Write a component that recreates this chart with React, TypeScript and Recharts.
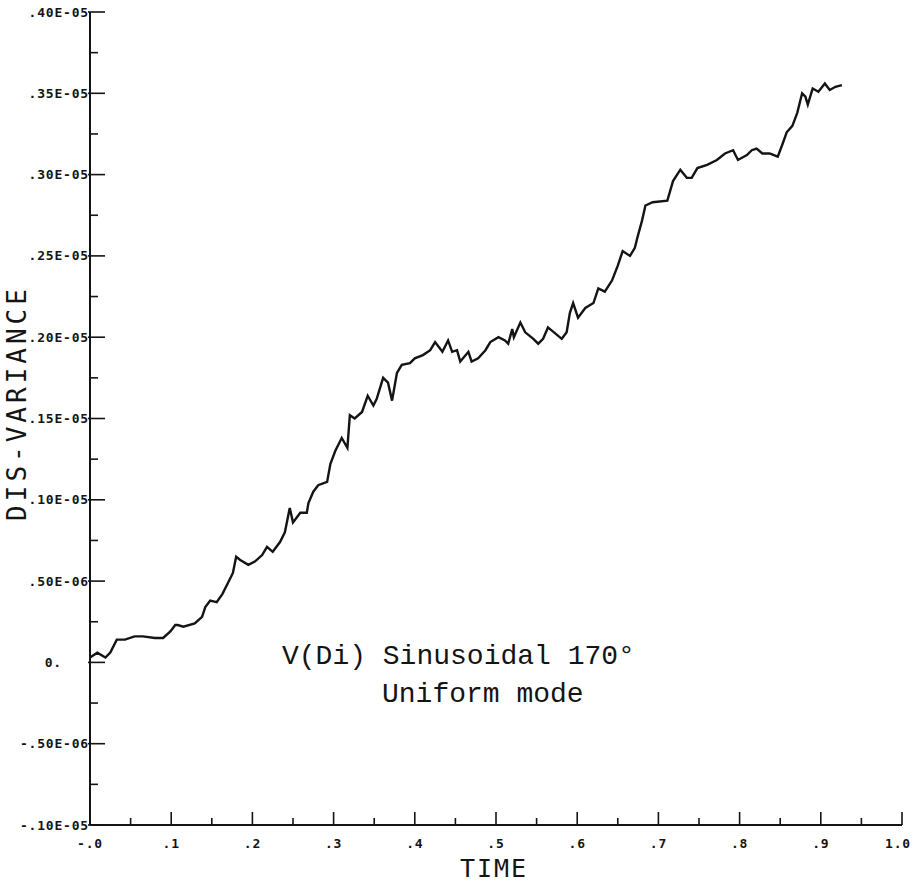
import { LineChart, Line, XAxis, YAxis, Customized } from "recharts";

const time = [
  0.0, 0.009, 0.019, 0.025, 0.033, 0.043, 0.055, 0.065, 0.08, 0.09,
  0.099, 0.105, 0.108, 0.115, 0.129, 0.138, 0.142, 0.148, 0.156, 0.163,
  0.17, 0.176, 0.18, 0.185, 0.195, 0.203, 0.212, 0.218, 0.225, 0.234,
  0.24, 0.246, 0.25, 0.259, 0.267, 0.269, 0.275, 0.281, 0.292, 0.296,
  0.302, 0.31, 0.317, 0.32, 0.326, 0.335, 0.342, 0.349, 0.353, 0.361,
  0.367, 0.372, 0.378, 0.384, 0.394, 0.4, 0.41, 0.419, 0.425, 0.434,
  0.441, 0.446, 0.452, 0.456, 0.466, 0.47, 0.478, 0.487, 0.493, 0.503,
  0.511, 0.515, 0.52, 0.522, 0.53, 0.536, 0.546, 0.552, 0.558, 0.564,
  0.581, 0.587, 0.591, 0.595, 0.601, 0.61, 0.62, 0.626, 0.634, 0.643,
  0.65, 0.656, 0.665, 0.671, 0.674, 0.68, 0.684, 0.693, 0.711, 0.718,
  0.727, 0.735, 0.741, 0.748, 0.76, 0.772, 0.782, 0.792, 0.798, 0.809,
  0.815, 0.821, 0.828, 0.837, 0.847, 0.853, 0.858, 0.865, 0.871, 0.877,
  0.881, 0.884, 0.89, 0.897, 0.905, 0.911, 0.918, 0.926,
];

const disVariance = [
  0.03, 0.06, 0.03, 0.06, 0.14, 0.14, 0.16, 0.16, 0.15, 0.15,
  0.19, 0.23, 0.23, 0.22, 0.24, 0.28, 0.34, 0.38, 0.37, 0.42,
  0.49, 0.55, 0.65, 0.63, 0.6, 0.62, 0.66, 0.71, 0.68, 0.74,
  0.8, 0.95, 0.86, 0.92, 0.92, 0.98, 1.05, 1.09, 1.11, 1.22,
  1.3, 1.38, 1.32, 1.52, 1.5, 1.54, 1.64, 1.58, 1.62, 1.75,
  1.72, 1.61, 1.78, 1.83, 1.84, 1.87, 1.89, 1.92, 1.97, 1.91,
  1.98, 1.91, 1.92, 1.85, 1.91, 1.85, 1.87, 1.92, 1.97, 2.0,
  1.98, 1.96, 2.05, 2.0, 2.09, 2.03, 1.99, 1.96, 1.99, 2.06,
  1.99, 2.03, 2.15, 2.21, 2.12, 2.18, 2.21, 2.3, 2.28, 2.35,
  2.44, 2.53, 2.5, 2.55, 2.61, 2.72, 2.81, 2.83, 2.84, 2.96,
  3.03, 2.98, 2.98, 3.04, 3.06, 3.09, 3.13, 3.15, 3.09, 3.12,
  3.15, 3.16, 3.13, 3.13, 3.11, 3.19, 3.26, 3.3, 3.38, 3.5,
  3.48, 3.43, 3.53, 3.51, 3.56, 3.52, 3.54, 3.55,
];

const yMajorTicks = [-1, -0.5, 0, 0.5, 1, 1.5, 2, 2.5, 3, 3.5, 4];
const yMajorLabels = [
  "-.10E-05", "-.50E-06", "0.", ".50E-06", ".10E-05", ".15E-05",
  ".20E-05", ".25E-05", ".30E-05", ".35E-05", ".40E-05",
];
const yMinorTicks = [-0.75, -0.25, 0.25, 0.75, 1.25, 1.75, 2.25, 2.75, 3.25, 3.75];

const xMajorTicks = [0, 0.1, 0.2, 0.3, 0.4, 0.5, 0.6, 0.7, 0.8, 0.9, 1.0];
const xMajorLabels = ["-.0", ".1", ".2", ".3", ".4", ".5", ".6", ".7", ".8", ".9", "1.0"];
const xMinorTicks = [0.05, 0.15, 0.25, 0.35, 0.45, 0.55, 0.65, 0.75, 0.85, 0.95];

const data = time.map((t, i) => ({ t, v: disVariance[i] }));

const INK = "#141414";
const tickFont = {
  fontFamily: "DejaVu Sans Mono",
  fontSize: 13,
  fontWeight: 700,
  letterSpacing: 0.8,
  fill: INK,
};

const YTick = (props: any) => {
  const { x, y, payload } = props;
  const i = yMajorTicks.indexOf(payload.value);
  if (i < 0) {
    return <line x1={x} x2={x + 8} y1={y} y2={y} stroke={INK} strokeWidth={1.6} />;
  }
  const label = yMajorLabels[i];
  return (
    <g>
      <line x1={x - 2} x2={x + 15} y1={y} y2={y} stroke={INK} strokeWidth={1.6} />
      <text
        x={label === "0." ? 62 : x - 1}
        y={y}
        textAnchor="end"
        dominantBaseline="central"
        {...tickFont}
      >
        {label}
      </text>
    </g>
  );
};

const XTick = (props: any) => {
  const { x, y, payload } = props;
  const i = xMajorTicks.indexOf(payload.value);
  if (i < 0) {
    return <line x1={x} x2={x} y1={y} y2={y - 7} stroke={INK} strokeWidth={1.6} />;
  }
  const last = i === xMajorTicks.length - 1;
  return (
    <g>
      <line x1={x} x2={x} y1={y} y2={y - 13} stroke={INK} strokeWidth={1.6} />
      <text
        x={last ? x + 9 : x}
        y={y + 23}
        textAnchor={last ? "end" : "middle"}
        {...tickFont}
      >
        {xMajorLabels[i]}
      </text>
    </g>
  );
};

const Titles = () => (
  <g>
    <text
      transform="translate(26, 403) rotate(-90)"
      textAnchor="middle"
      fontFamily="DejaVu Sans Mono"
      fontSize={26}
      letterSpacing={4}
      fill={INK}
    >
      DIS-VARIANCE
    </text>
    <text
      x={494}
      y={877}
      textAnchor="middle"
      fontFamily="DejaVu Sans Mono"
      fontSize={25}
      letterSpacing={2}
      fill={INK}
    >
      TIME
    </text>
    <text x={282} y={664} fontFamily="Liberation Mono" fontSize={28} fill={INK}>
      V(Di) Sinusoidal 170°
    </text>
    <text x={382} y={702} fontFamily="Liberation Mono" fontSize={28} fill={INK}>
      Uniform mode
    </text>
  </g>
);

export default function App() {
  return (
    <div style={{ position: "absolute", left: 0, top: 0, background: "#fff" }}>
      <LineChart
        width={913}
        height={883}
        data={data}
        margin={{ top: 12, right: 11, bottom: 0, left: 0 }}
      >
        <XAxis
          dataKey="t"
          type="number"
          domain={[0, 1]}
          ticks={[...xMajorTicks, ...xMinorTicks].sort((a, b) => a - b)}
          interval={0}
          height={58}
          tickSize={0}
          tickMargin={0}
          tickLine={false}
          axisLine={{ stroke: INK, strokeWidth: 2 }}
          tick={<XTick />}
        />
        <YAxis
          dataKey="v"
          type="number"
          domain={[-1, 4]}
          ticks={[...yMajorTicks, ...yMinorTicks].sort((a, b) => a - b)}
          interval={0}
          width={90}
          tickSize={0}
          tickMargin={0}
          tickLine={false}
          axisLine={{ stroke: INK, strokeWidth: 2 }}
          tick={<YTick />}
        />
        <Line
          type="linear"
          dataKey="v"
          stroke={INK}
          strokeWidth={2.4}
          dot={false}
          isAnimationActive={false}
        />
        <Customized component={Titles} />
      </LineChart>
    </div>
  );
}
